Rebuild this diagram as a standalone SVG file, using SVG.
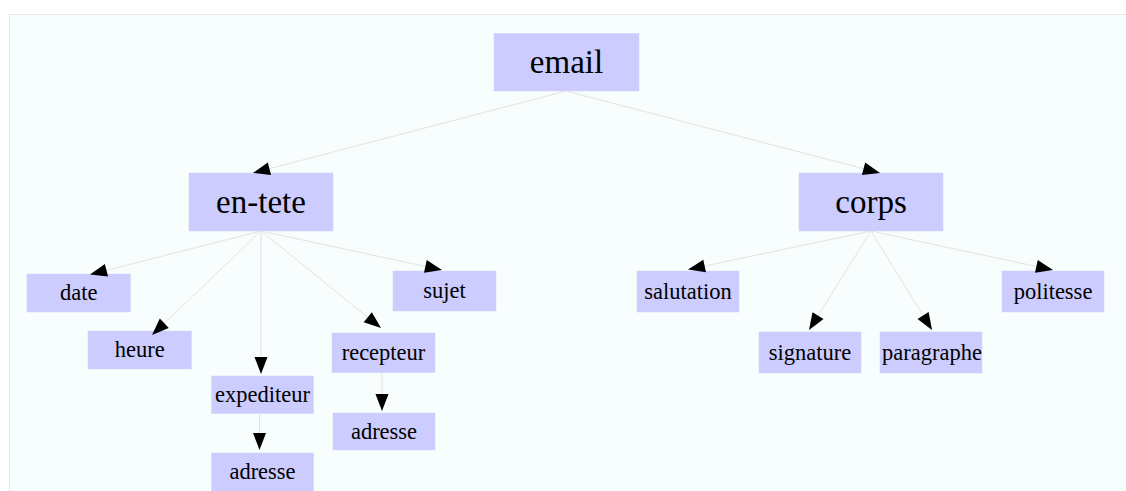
<svg xmlns="http://www.w3.org/2000/svg" width="1126" height="491" viewBox="0 0 1126 491">
  <style>
    .panel { fill: #f8fdfd; stroke: #e6e6e6; stroke-width: 1; }
    .node rect { fill: #ccccff; stroke: #d4d4fb; stroke-width: 0.5; }
    .node text { font-family: "Liberation Serif", "DejaVu Serif", serif; fill: #000; text-anchor: middle; }
    .big text { font-size: 33px; }
    .small text { font-size: 22.5px; }
    .link { stroke: #e3e3e3; stroke-width: 1; fill: none; marker-end: url(#arrow); }
  </style>
  <defs>
    <marker id="arrow" markerUnits="userSpaceOnUse" markerWidth="17" markerHeight="13" refX="17" refY="6.5" orient="auto" overflow="visible">
      <path d="M0,0 L17,6.5 L0,13 Z" fill="#000"/>
    </marker>
  </defs>

  <rect width="1126" height="491" fill="#ffffff"/>
  <rect class="panel" x="9.5" y="14.5" width="1130" height="490"/>

  <!-- tree nodes -->
  <g id="node-email" class="node big">
    <rect x="494" y="33.5" width="145" height="57.5"/>
    <text x="566.5" y="73">email</text>
  </g>
  <g id="node-en-tete" class="node big">
    <rect x="189" y="173" width="144" height="58"/>
    <text x="261" y="213">en-tete</text>
  </g>
  <g id="node-corps" class="node big">
    <rect x="799" y="173" width="144" height="58"/>
    <text x="871" y="213">corps</text>
  </g>
  <g id="node-date" class="node small">
    <rect x="27" y="274" width="103.5" height="38"/>
    <text x="78.7" y="300">date</text>
  </g>
  <g id="node-heure" class="node small">
    <rect x="88" y="331" width="103.5" height="38"/>
    <text x="139.7" y="357">heure</text>
  </g>
  <g id="node-expediteur" class="node small">
    <rect x="211.5" y="376" width="102" height="37.5"/>
    <text x="262.5" y="402">expediteur</text>
  </g>
  <g id="node-adresse-exp" class="node small">
    <rect x="211.5" y="453" width="102" height="38"/>
    <text x="262.5" y="479">adresse</text>
  </g>
  <g id="node-recepteur" class="node small">
    <rect x="332" y="333" width="103" height="39.5"/>
    <text x="383.5" y="360">recepteur</text>
  </g>
  <g id="node-adresse-rec" class="node small">
    <rect x="333" y="413" width="102" height="37"/>
    <text x="384" y="439">adresse</text>
  </g>
  <g id="node-sujet" class="node small">
    <rect x="393" y="271" width="103" height="40"/>
    <text x="444.5" y="298">sujet</text>
  </g>
  <g id="node-salutation" class="node small">
    <rect x="637" y="271" width="102" height="41"/>
    <text x="688" y="299">salutation</text>
  </g>
  <g id="node-signature" class="node small">
    <rect x="759" y="332" width="102" height="41"/>
    <text x="810" y="360">signature</text>
  </g>
  <g id="node-paragraphe" class="node small">
    <rect x="880" y="332" width="102" height="41"/>
    <text x="932" y="360">paragraphe</text>
  </g>
  <g id="node-politesse" class="node small">
    <rect x="1002" y="271" width="102" height="41"/>
    <text x="1053" y="299">politesse</text>
  </g>

  <!-- parent-to-child links -->
  <g id="connectors">
    <line class="link" x1="566" y1="91" x2="253" y2="173"/>
    <line class="link" x1="566" y1="91" x2="880" y2="173"/>
    <line class="link" x1="261" y1="231" x2="90" y2="274.5"/>
    <line class="link" x1="261" y1="231" x2="152" y2="335"/>
    <line class="link" x1="261" y1="231" x2="261" y2="374"/>
    <line class="link" x1="261" y1="231" x2="381" y2="328"/>
    <line class="link" x1="261" y1="231" x2="442" y2="270"/>
    <line class="link" x1="259.5" y1="413.5" x2="259.5" y2="450"/>
    <line class="link" x1="382" y1="372.5" x2="382" y2="411"/>
    <line class="link" x1="871" y1="231" x2="688" y2="269.5"/>
    <line class="link" x1="871" y1="231" x2="809" y2="330"/>
    <line class="link" x1="871" y1="231" x2="932" y2="330"/>
    <line class="link" x1="871" y1="231" x2="1053" y2="270"/>
  </g>
</svg>
